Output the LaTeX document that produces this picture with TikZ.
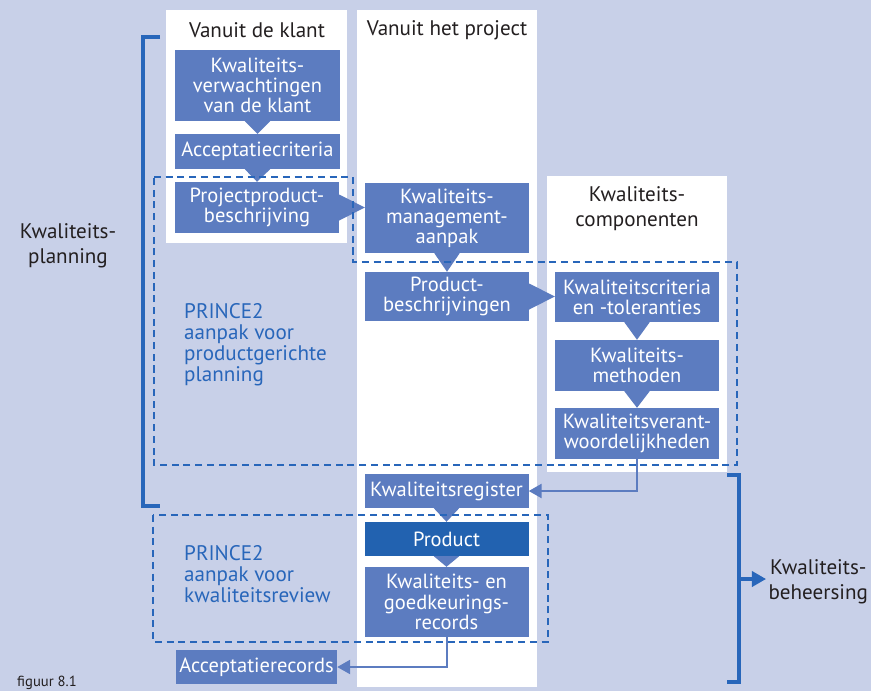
\documentclass[tikz,border=0pt]{standalone}
\usepackage{fontspec}
\setmainfont{PT Sans}
\usetikzlibrary{arrows.meta}
\definecolor{achtergrond}{RGB}{200,208,232}
\definecolor{blokblauw}{RGB}{92,124,192}
\definecolor{donkerblauw}{RGB}{34,98,176}
\definecolor{lijnblauw}{RGB}{40,102,186}
\definecolor{tekstgrijs}{RGB}{35,31,32}
\begin{document}
\begin{tikzpicture}[x=0.03cm,y=-0.03cm,
    blok/.style={fill=blokblauw,text=white,align=center,minimum width=4.92cm,inner sep=0pt,font=\fontsize{17.5}{17.2}\selectfont},
    kop/.style={text=tekstgrijs,align=center,inner sep=2pt,font=\fontsize{18}{21.5}\selectfont},
    prince/.style={text=lijnblauw,align=left,anchor=north west,inner sep=0pt,font=\fontsize{18}{18}\selectfont},
    stippel/.style={draw=lijnblauw,line width=1.5pt,dash pattern=on 6pt off 4pt},
    haak/.style={draw=lijnblauw,line width=2.6pt},
    pijl/.style={draw=blokblauw,line width=1.7pt,-{Triangle[length=11pt,width=12pt]}}]
    \fill[achtergrond] (0,0) rectangle (871,691);
    \useasboundingbox (0,0) rectangle (871,691);
    \fill[white] (166,10) rectangle (347,243);
    \fill[white] (357,10) rectangle (537,687);
    \fill[white] (547,176) rectangle (727,472);

    \node[kop] (klant) at (257,30) {Vanuit de klant};
    \node[kop] (project) at (447,30) {Vanuit het project};
    \node[kop] (componenten) at (637,209) {Kwaliteits-\\componenten};
    \node[kop] (planning) at (68,246) {Kwaliteits-\\planning};
    \node[kop,anchor=west] (beheersing) at (766,582) {Kwaliteits-\\beheersing};
    \node[prince] (prince1) at (184,303) {PRINCE2\\aanpak voor\\productgerichte\\planning};
    \node[prince] (prince2) at (184,545) {PRINCE2\\aanpak voor\\kwaliteitsreview};
    \node[text=tekstgrijs,anchor=west,inner sep=0pt,font=\fontsize{12.5}{14}\selectfont] (figuur) at (17,683) {figuur 8.1};

    \node[blok,minimum height=2.13cm] (verw) at (257.5,85.5) {Kwaliteits-\\verwachtingen\\van de klant};
    \node[blok,minimum height=1.05cm] (accept) at (257.5,151.5) {Acceptatiecriteria};
    \node[blok,minimum height=1.53cm] (ppb) at (257,207.5) {Projectproduct-\\beschrijving};
    \node[blok,minimum height=2.1cm] (kma) at (447,218) {Kwaliteits-\\management-\\aanpak};
    \node[blok,minimum height=1.47cm] (pbs) at (447,296.5) {Product-\\beschrijvingen};
    \node[blok,minimum height=1.5cm] (kct) at (637,297) {Kwaliteitscriteria\\en -toleranties};
    \node[blok,minimum height=1.53cm] (kmeth) at (637,365.5) {Kwaliteits-\\methoden};
    \node[blok,minimum height=1.53cm] (kvw) at (637,433.5) {Kwaliteitsverant-\\woordelijkheden};
    \node[blok,minimum height=1.02cm] (kreg) at (446.5,491) {Kwaliteitsregister};
    \node[blok,minimum height=1.02cm,fill=donkerblauw] (prod) at (446.5,539) {Product};
    \node[blok,minimum height=2.1cm] (krec) at (446.5,602) {Kwaliteits- en\\goedkeurings-\\records};
    \node[blok,minimum height=1.02cm,minimum width=4.83cm] (arec) at (256.5,667) {Acceptatierecords};

    \foreach \a/\b in {verw/accept,accept/ppb,kma/pbs,kct/kmeth,kmeth/kvw,kreg/prod,prod/krec}
        \fill[blokblauw] ([xshift=-0.38cm]\a.south) -- (\b.north) -- ([xshift=0.38cm]\a.south) -- cycle;
    \fill[blokblauw] ([yshift=0.39cm]ppb.east) -- (kma.west |- ppb.east) -- ([yshift=-0.39cm]ppb.east) -- cycle;
    \fill[blokblauw] ([yshift=0.39cm]pbs.east) -- (kct.west |- pbs.east) -- ([yshift=-0.39cm]pbs.east) -- cycle;
    \draw[pijl] (kvw.south) |- (kreg.east);
    \draw[pijl] (krec.south) |- (arec.east);

    \draw[stippel] (154,177) -- (353,177) -- (353,262) -- (737,262) -- (737,465) -- (154,465) -- cycle;
    \draw[stippel] (153,515) rectangle (548,642);

    \draw[haak] (160,37) -- (143,37) -- (143,506) -- (160,506);
    \draw[haak] (727,475) -- (739,475) -- (739,682) -- (727,682);
    \coordinate (haakpunt) at (739,579);
    \draw[haak,-{Triangle[length=12pt,width=13pt]}] (haakpunt) -- (haakpunt -| beheersing.west);
\end{tikzpicture}
\end{document}
